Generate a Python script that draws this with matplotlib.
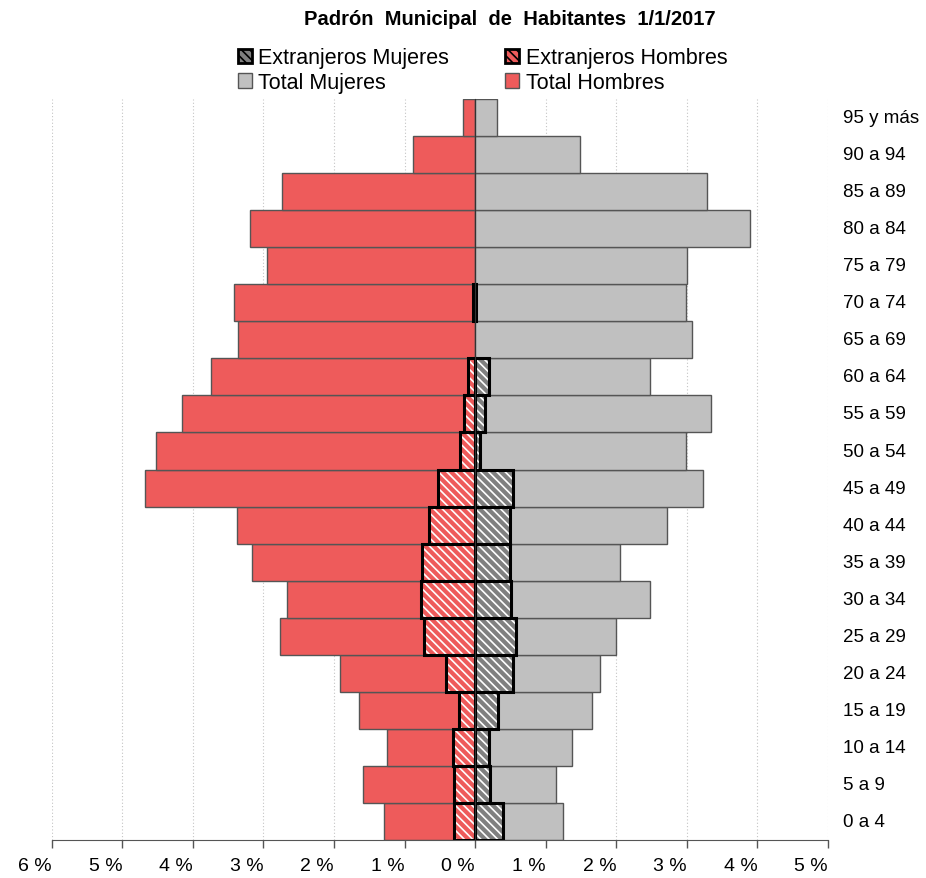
import numpy as np
import matplotlib.pyplot as plt
from matplotlib.patches import Patch
from matplotlib.transforms import blended_transform_factory

plt.rcParams['font.family'] = ['Liberation Sans', 'DejaVu Sans']
plt.rcParams['hatch.linewidth'] = 1.2

# Grupos de edad (de abajo a arriba) y porcentajes sobre el total de habitantes
edades = ['0 a 4', '5 a 9', '10 a 14', '15 a 19', '20 a 24', '25 a 29', '30 a 34',
          '35 a 39', '40 a 44', '45 a 49', '50 a 54', '55 a 59', '60 a 64', '65 a 69',
          '70 a 74', '75 a 79', '80 a 84', '85 a 89', '90 a 94', '95 y más']
total_hombres = [1.29, 1.59, 1.25, 1.65, 1.91, 2.77, 2.67, 3.16, 3.38, 4.68,
                 4.52, 4.16, 3.74, 3.36, 3.42, 2.95, 3.19, 2.74, 0.88, 0.17]
total_mujeres = [1.25, 1.15, 1.38, 1.65, 1.77, 2.00, 2.48, 2.06, 2.72, 3.23,
                 2.99, 3.35, 2.48, 3.08, 2.99, 3.01, 3.89, 3.29, 1.48, 0.31]
ext_hombres = [0.30, 0.30, 0.31, 0.23, 0.41, 0.72, 0.77, 0.76, 0.65, 0.53,
               0.22, 0.16, 0.10, 0.00, 0.03, 0.00, 0.00, 0.00, 0.00, 0.00]
ext_mujeres = [0.39, 0.21, 0.19, 0.32, 0.54, 0.58, 0.51, 0.50, 0.49, 0.53,
               0.07, 0.14, 0.20, 0.00, 0.01, 0.00, 0.00, 0.00, 0.00, 0.00]

xticks = [-6, -5, -4, -3, -2, -1, 0, 1, 2, 3, 4, 5]

rojo = '#EE5B5B'
gris = '#C0C0C0'
gris_osc = '#808080'
borde = '#555555'

y = np.arange(len(edades))
th = -np.array(total_hombres)
tm = np.array(total_mujeres)
eh = -np.array(ext_hombres)
em = np.array(ext_mujeres)

fig = plt.figure(figsize=(9.26, 8.79), dpi=100)
ax = fig.add_axes([0.056, 0.0432, 0.838, 0.843])

ax.barh(y, th, height=1.0, color=rojo, edgecolor=borde, linewidth=1, zorder=2)
ax.barh(y, tm, height=1.0, color=gris, edgecolor=borde, linewidth=1, zorder=2)

# extranjeros: relleno rayado en blanco y borde negro grueso
for vals, fc in [(eh, rojo), (em, gris_osc)]:
    m = vals != 0
    ax.barh(y[m], vals[m], height=1.0, color=fc, edgecolor='white',
            hatch='\\\\\\\\', linewidth=0, zorder=3)
    ax.barh(y[m], vals[m], height=1.0, fill=False, edgecolor='black',
            linewidth=2.2, zorder=4)

ax.set_xlim(-6, 5)
ax.set_ylim(-0.5, len(edades) - 0.5)

ax.set_xticks(xticks)
ax.set_xticklabels([f'{abs(t)} %' for t in xticks], fontsize=14, ha='right')
ax.tick_params(axis='x', direction='out', length=6, width=1, color=borde, pad=6)
ax.xaxis.grid(True, linestyle=(0, (1, 2)), color='#C4C4C4', linewidth=0.8, zorder=0)
ax.set_axisbelow(True)

# eje vertical en el cero, sin etiquetas
ax.spines['left'].set_position(('data', 0))
ax.spines['left'].set_color('#333333')
ax.spines['left'].set_zorder(5)
ax.set_yticks(y)
ax.set_yticklabels([])
ax.tick_params(axis='y', direction='out', length=4, width=1, color='#333333')
ax.spines['right'].set_visible(False)
ax.spines['top'].set_visible(False)
ax.spines['bottom'].set_color(borde)

trans = blended_transform_factory(ax.transAxes, ax.transData)
for yi, lab in zip(y, edades):
    ax.text(1.019, yi, lab, transform=trans, ha='left', va='center', fontsize=13.5)

fig.text(0.551, 0.978, 'Padrón  Municipal  de  Habitantes  1/1/2017',
         ha='center', va='center', fontsize=14.5, fontweight='bold')

handles = [
    Patch(facecolor=gris_osc, edgecolor='black', hatch='\\\\\\\\', linewidth=2, label='Extranjeros Mujeres'),
    Patch(facecolor=gris, edgecolor=borde, linewidth=1, label='Total Mujeres'),
    Patch(facecolor=rojo, edgecolor='black', hatch='\\\\\\\\', linewidth=2, label='Extranjeros Hombres'),
    Patch(facecolor=rojo, edgecolor=borde, linewidth=1, label='Total Hombres'),
]
fig.legend(handles=handles, ncol=2, loc='center', bbox_to_anchor=(0.521, 0.919),
           frameon=False, fontsize=15.5, handlelength=0.65, handleheight=0.65,
           handletextpad=0.3, columnspacing=2.6, labelspacing=0.18, borderpad=0)

fig.savefig('out.png', dpi=100)
